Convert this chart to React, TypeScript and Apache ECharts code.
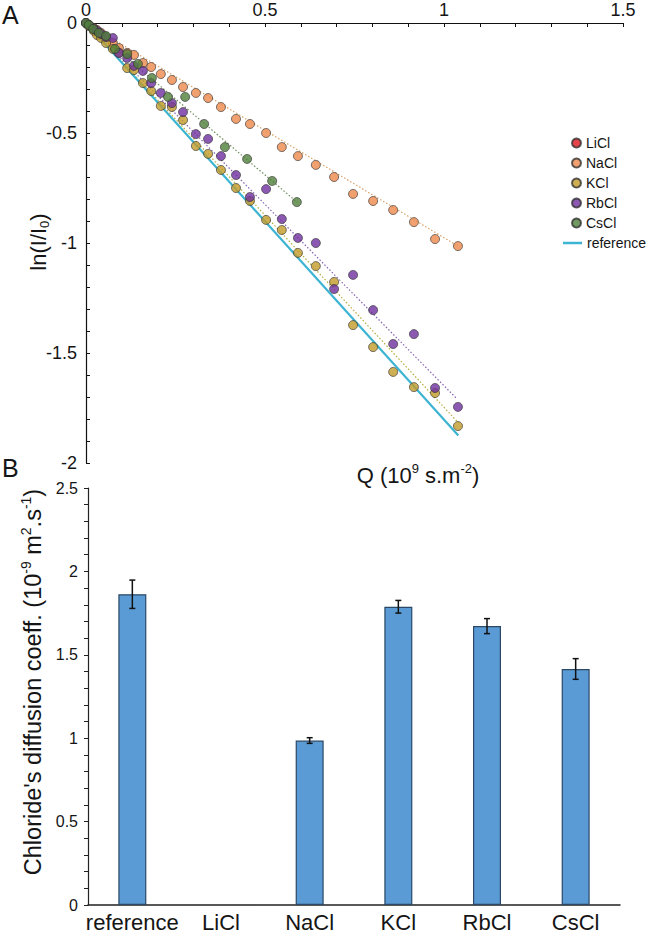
import React, { useEffect, useRef } from "react";
import * as echarts from "echarts";

// ---------- Panel A data (Q in 10^9 s.m^-2, ln(I/I0)) ----------
const qGrid = [0, 0.008, 0.022, 0.031, 0.042, 0.056, 0.075, 0.092, 0.115, 0.134, 0.159, 0.182, 0.209, 0.24, 0.271, 0.307, 0.341, 0.377, 0.419, 0.458, 0.503, 0.547, 0.592, 0.642, 0.693, 0.746, 0.802, 0.858, 0.916, 0.975, 1.039];
const naclLn = [0, -0.009, -0.023, -0.032, -0.045, -0.064, -0.091, -0.114, -0.136, -0.145, -0.182, -0.2, -0.232, -0.259, -0.291, -0.318, -0.341, -0.382, -0.436, -0.459, -0.5, -0.564, -0.605, -0.645, -0.7, -0.777, -0.809, -0.85, -0.905, -0.982, -1.014];
const kclLn = [0, -0.014, -0.036, -0.055, -0.068, -0.091, -0.118, -0.136, -0.205, -0.214, -0.273, -0.309, -0.377, -0.382, -0.441, -0.559, -0.595, -0.668, -0.75, -0.809, -0.895, -0.941, -1.045, -1.105, -1.177, -1.373, -1.473, -1.586, -1.655, -1.682, -1.832];
const rbclLn = [0, -0.009, -0.027, -0.036, -0.05, -0.064, -0.068, -0.136, -0.159, -0.195, -0.218, -0.273, -0.318, -0.364, -0.405, -0.505, -0.527, -0.605, -0.691, -0.791, -0.755, -0.891, -0.977, -1.0, -1.209, -1.145, -1.305, -1.459, -1.414, -1.659, -1.745];
const csclQ = [0, 0.008, 0.02, 0.036, 0.056, 0.081, 0.115, 0.145, 0.184, 0.229, 0.277, 0.33, 0.388, 0.45, 0.52, 0.589];
const csclLn = [0, -0.009, -0.027, -0.045, -0.059, -0.118, -0.141, -0.186, -0.25, -0.336, -0.336, -0.459, -0.564, -0.618, -0.718, -0.814];
const liclLn: number[] = [];

// fitted lines (start / end points)
const fitNaCl = [[0, 0], [1.04, -1.015]];
const fitKCl = [[0, 0], [1.04, -1.817]];
const fitRbCl = [[0, 0], [1.037, -1.71]];
const fitCsCl = [[0, 0], [0.59, -0.815]];
const referenceLine = [[0, 0], [1.04, -1.875]];

// ---------- Panel B data ----------
const saltCategories = ["reference", "LiCl", "NaCl", "KCl", "RbCl", "CsCl"];
const diffusionCoeff = [1.863, null, 0.986, 1.788, 1.672, 1.415];
const diffusionErr = [0.085, null, 0.017, 0.038, 0.045, 0.062];

const FONT = "'Liberation Sans', Arial, Helvetica, sans-serif";
const TXT = "#151515";

const zip = (xs: number[], ys: number[]) => ys.map((y, i) => [xs[i], y]);

export default function App() {
  const ref = useRef<HTMLDivElement>(null);

  useEffect(() => {
    document.body.style.margin = "0";
    const chart = echarts.init(ref.current!, null, { renderer: "svg" });

    const marker = (color: string) => ({
      color,
      borderColor: "#333",
      borderWidth: 0.8,
    });

    const scatter = (name: string, data: number[][], color: string) => ({
      type: "scatter",
      name,
      xAxisIndex: 0,
      yAxisIndex: 0,
      data,
      symbol: "circle",
      symbolSize: 9,
      itemStyle: marker(color),
      z: 4,
      silent: true,
    });

    const fit = (data: number[][], color: string) => ({
      type: "line",
      xAxisIndex: 0,
      yAxisIndex: 0,
      data,
      symbol: "none",
      lineStyle: { color, width: 1.2, type: [1.5, 2] },
      z: 2,
      silent: true,
    });

    const option: any = {
      animation: false,
      backgroundColor: "#fff",
      textStyle: { fontFamily: FONT, color: TXT },
      grid: [
        { left: 86, top: 23, width: 537, height: 440 },
        { left: 88, top: 488, width: 532, height: 417 },
      ],
      xAxis: [
        {
          type: "value",
          gridIndex: 0,
          position: "top",
          min: 0,
          max: 1.5,
          interval: 0.5,
          axisLine: { lineStyle: { color: "#111", width: 1.2 } },
          axisTick: { show: true, inside: true, length: 4, lineStyle: { color: "#111" } },
          minorTick: { show: true, splitNumber: 5, length: 4, lineStyle: { color: "#111" } },
          splitLine: { show: false },
          axisLabel: { fontSize: 18, color: TXT, margin: 4, fontFamily: FONT },
        },
        {
          type: "category",
          gridIndex: 1,
          data: saltCategories,
          axisLine: { lineStyle: { color: "#222", width: 1.5 } },
          axisTick: { show: false },
          axisLabel: { fontSize: 22, color: TXT, margin: 6, interval: 0, hideOverlap: false, fontFamily: FONT },
        },
      ],
      yAxis: [
        {
          type: "value",
          gridIndex: 0,
          min: -2,
          max: 0,
          interval: 0.5,
          axisLine: { show: true, lineStyle: { color: "#111", width: 1.2 } },
          axisTick: { show: true, inside: true, length: 4, lineStyle: { color: "#111" } },
          minorTick: { show: true, splitNumber: 5, length: 4, lineStyle: { color: "#111" } },
          splitLine: { show: false },
          axisLabel: { fontSize: 18, color: TXT, margin: 9, fontFamily: FONT },
        },
        {
          type: "value",
          gridIndex: 1,
          min: 0,
          max: 2.5,
          interval: 0.5,
          axisLine: { show: true, lineStyle: { color: "#222", width: 1.2 } },
          axisTick: { show: true, inside: false, length: 4, lineStyle: { color: "#222" } },
          minorTick: { show: true, splitNumber: 5, length: 4, lineStyle: { color: "#222" } },
          splitLine: { show: false },
          axisLabel: { fontSize: 16, color: TXT, margin: 10, fontFamily: FONT },
        },
      ],
      legend: [
        {
          data: ["LiCl", "NaCl", "KCl", "RbCl", "CsCl"],
          orient: "vertical",
          left: 571,
          top: 133,
          padding: 0,
          itemGap: 0,
          itemWidth: 9,
          itemHeight: 9,
          icon: "circle",
          selectedMode: false,
          textStyle: { fontSize: 14, lineHeight: 20, color: TXT, fontFamily: FONT },
        },
        {
          data: [{ name: "reference", icon: "rect" }],
          orient: "vertical",
          left: 563,
          top: 233,
          padding: 0,
          itemWidth: 19,
          itemHeight: 2.5,
          selectedMode: false,
          textStyle: { fontSize: 14, lineHeight: 20, color: TXT, fontFamily: FONT },
        },
      ],
      graphic: [
        { type: "text", left: 2, top: 2, style: { text: "A", fontSize: 25, fill: TXT, fontFamily: FONT } },
        { type: "text", left: 2, top: 455, style: { text: "B", fontSize: 25, fill: TXT, fontFamily: FONT } },
        {
          type: "text",
          x: 418,
          y: 475,
          style: {
            text: "{a|Q (10}{s|9}{a| s.m}{s|-2}{a|)}",
            align: "center",
            verticalAlign: "middle",
            rich: {
              a: { fontSize: 22, lineHeight: 26, fill: TXT, fontFamily: FONT },
              s: { fontSize: 13, lineHeight: 14, verticalAlign: "top", fill: TXT, fontFamily: FONT },
            },
          },
        },
        {
          type: "text",
          x: 38,
          y: 242,
          rotation: Math.PI / 2,
          style: {
            text: "{a|ln(I/I}{b|0}{a|)}",
            align: "center",
            verticalAlign: "middle",
            rich: {
              a: { fontSize: 22, lineHeight: 26, fill: TXT, fontFamily: FONT },
              b: { fontSize: 13, lineHeight: 14, verticalAlign: "bottom", fill: TXT, fontFamily: FONT },
            },
          },
        },
        {
          type: "text",
          x: 33,
          y: 682,
          rotation: Math.PI / 2,
          style: {
            text: "{a|Chloride's diffusion coeff. (10}{s|-9}{a| m}{s|2}{a|.s}{s|-1}{a|)}",
            align: "center",
            verticalAlign: "middle",
            rich: {
              a: { fontSize: 23.5, lineHeight: 28, fill: TXT, fontFamily: FONT },
              s: { fontSize: 14, lineHeight: 15, verticalAlign: "top", fill: TXT, fontFamily: FONT },
            },
          },
        },
      ],
      series: [
        fit(fitNaCl, "#d9a064"),
        fit(fitKCl, "#b3ad3c"),
        fit(fitRbCl, "#8563b3"),
        fit(fitCsCl, "#6d8d5c"),
        {
          type: "line",
          name: "reference",
          xAxisIndex: 0,
          yAxisIndex: 0,
          data: referenceLine,
          symbol: "none",
          lineStyle: { color: "#3cb4d2", width: 2.2 },
          itemStyle: { color: "#3cb4d2" },
          z: 3,
          silent: true,
        },
        scatter("LiCl", zip(qGrid, liclLn), "#e0141e"),
        scatter("NaCl", zip(qGrid, naclLn), "#ed8a4c"),
        scatter("KCl", zip(qGrid, kclLn), "#c39b29"),
        scatter("RbCl", zip(qGrid, rbclLn), "#6f2f9f"),
        scatter("CsCl", zip(csclQ, csclLn), "#4f7f3a"),
        {
          type: "bar",
          xAxisIndex: 1,
          yAxisIndex: 1,
          data: diffusionCoeff.map((v) => (v == null ? "-" : v)),
          barWidth: 28,
          itemStyle: { color: "#5b9bd5", borderColor: "#2b4866", borderWidth: 1.2 },
          silent: true,
        },
        {
          type: "custom",
          xAxisIndex: 1,
          yAxisIndex: 1,
          data: diffusionCoeff
            .map((v, i) => (v == null ? null : [i, v - (diffusionErr[i] as number), v + (diffusionErr[i] as number)]))
            .filter((d) => d !== null),
          encode: { x: 0, y: [1, 2] },
          z: 5,
          silent: true,
          renderItem: (params: any, api: any) => {
            const x = api.value(0);
            const hi = api.coord([x, api.value(2)]);
            const lo = api.coord([x, api.value(1)]);
            const w = 3;
            const style = { stroke: "#111", lineWidth: 1.5 };
            return {
              type: "group",
              children: [
                { type: "line", shape: { x1: hi[0], y1: hi[1], x2: lo[0], y2: lo[1] }, style },
                { type: "line", shape: { x1: hi[0] - w, y1: hi[1], x2: hi[0] + w, y2: hi[1] }, style },
                { type: "line", shape: { x1: lo[0] - w, y1: lo[1], x2: lo[0] + w, y2: lo[1] }, style },
              ],
            };
          },
        },
      ],
    };

    chart.setOption(option);
    return () => chart.dispose();
  }, []);

  return <div ref={ref} style={{ position: "absolute", left: 0, top: 0, width: 650, height: 938 }} />;
}
